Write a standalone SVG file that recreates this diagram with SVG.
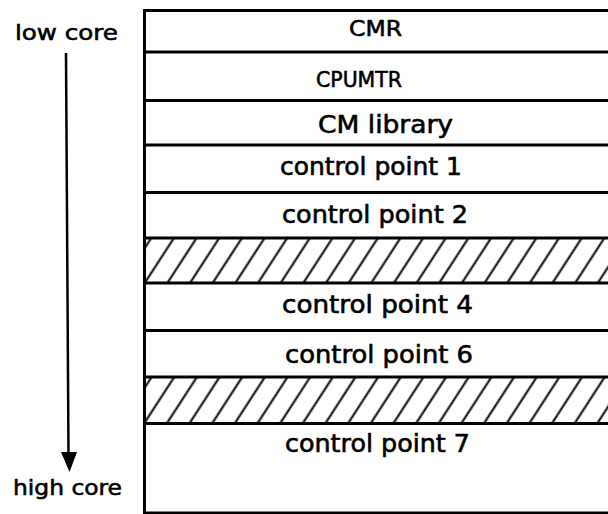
<svg xmlns="http://www.w3.org/2000/svg" width="608" height="514" viewBox="0 0 608 514">
  <style>
    .rule { stroke: #000; stroke-width: 3; fill: none; }
    .lbl { font-family: "DejaVu Sans", "Liberation Sans", sans-serif; fill: #000; stroke: #000; stroke-width: 0.6; }
    .lc { font-size: 24px; }
    .uc { font-size: 22px; }
    .side { font-size: 22px; }
    .hatch { fill: url(#hatch); }
  </style>
  <defs>
    <!-- diagonal hatching for unused core regions -->
    <pattern id="hatch" width="19" height="10" patternUnits="userSpaceOnUse" patternTransform="rotate(33)">
      <line x1="9.5" y1="-1" x2="9.5" y2="11" stroke="#000" stroke-width="2"/>
    </pattern>
  </defs>

  <!-- direction indicator -->
  <g id="axis">
    <text class="lbl side" x="15" y="40" textLength="103" lengthAdjust="spacingAndGlyphs">low core</text>
    <line x1="66" y1="53" x2="68.5" y2="455" stroke="#000" stroke-width="2.5"/>
    <polygon points="61,452 77,452 69.5,472" fill="#000"/>
    <text class="lbl side" x="13" y="495" textLength="109" lengthAdjust="spacingAndGlyphs">high core</text>
  </g>

  <!-- memory map segments -->
  <g id="cmr">
    <text class="lbl uc" x="349" y="36" textLength="53" lengthAdjust="spacingAndGlyphs">CMR</text>
  </g>
  <g id="cpumtr">
    <text class="lbl uc" x="316" y="87" textLength="86" lengthAdjust="spacingAndGlyphs">CPUMTR</text>
  </g>
  <g id="cm-library">
    <text class="lbl lc" x="318" y="133" textLength="135" lengthAdjust="spacingAndGlyphs">CM library</text>
  </g>
  <g id="cp1">
    <text class="lbl lc" x="280" y="175" textLength="182" lengthAdjust="spacingAndGlyphs">control point 1</text>
  </g>
  <g id="cp2">
    <text class="lbl lc" x="282" y="223" textLength="186" lengthAdjust="spacingAndGlyphs">control point 2</text>
  </g>
  <g id="gap1">
    <rect class="hatch" x="144" y="238" width="464" height="45"/>
  </g>
  <g id="cp4">
    <text class="lbl lc" x="282" y="313" textLength="191" lengthAdjust="spacingAndGlyphs">control point 4</text>
  </g>
  <g id="cp6">
    <text class="lbl lc" x="285" y="363" textLength="188" lengthAdjust="spacingAndGlyphs">control point 6</text>
  </g>
  <g id="gap2">
    <rect class="hatch" x="144" y="377" width="464" height="46.5"/>
  </g>
  <g id="cp7">
    <text class="lbl lc" x="285" y="452" textLength="185" lengthAdjust="spacingAndGlyphs">control point 7</text>
  </g>

  <!-- frame and dividers -->
  <g id="frame">
    <path class="rule" d="M608 10.5 H144.5 V513 H608"/>
    <path class="rule" d="M144 52 H608 M144 100.5 H608 M144 145 H608 M144 192.5 H608 M144 238 H608 M144 283 H608 M144 330.5 H608 M144 377 H608 M144 423.5 H608"/>
  </g>
</svg>
